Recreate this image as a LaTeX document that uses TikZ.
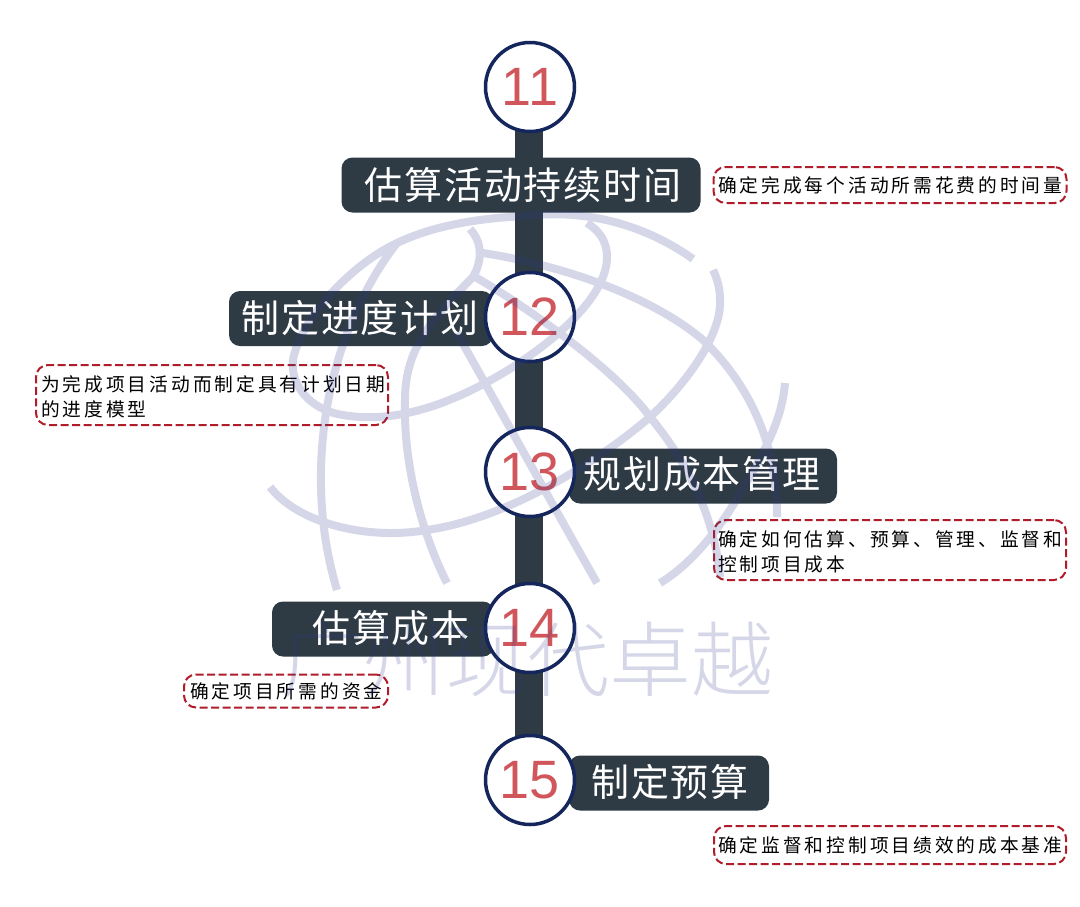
\documentclass[tikz,border=0pt]{standalone}
\usepackage{fontspec}
\setmainfont{Liberation Sans}
\newfontfamily\cjk{Noto Sans CJK SC}
\newfontfamily\cjkt[LetterSpace=5]{Noto Sans CJK SC}
\newfontfamily\cjkn[LetterSpace=16]{Noto Sans CJK SC}
\newfontfamily\wmfont{Noto Sans CJK SC Light}
\definecolor{barc}{HTML}{2E3A44}
\definecolor{ringc}{HTML}{14265C}
\definecolor{numc}{HTML}{D1565C}
\definecolor{dashc}{HTML}{B01C2A}
\definecolor{wmc}{HTML}{2E3A8C}
\tikzset{
 stepnum/.style={circle,draw=ringc,line width=3.5pt,fill=white,minimum size=89pt,inner sep=0pt,text=numc,font=\fontsize{54}{58}\selectfont},
 titlebox/.style={rectangle,rounded corners=11pt,fill=barc,text=white,minimum height=55pt,inner sep=0pt},
 titletext/.style={text=white,inner sep=0pt,font=\cjkt\fontsize{38}{40}\selectfont},
 notebox/.style={rectangle,rounded corners=12pt,draw=dashc,line width=2pt,dash pattern=on 8pt off 3.5pt,inner sep=0pt},
 notetext/.style={text=black,inner sep=0pt,align=left,font=\cjkn\fontsize{18.7}{24.5}\selectfont},
 wmline/.style={draw=wmc,line width=8pt,opacity=0.2}
}
\begin{document}
\begin{tikzpicture}[x=1pt,y=-1pt]
\useasboundingbox (0,0) rectangle (1080,906);
\fill[white] (0,0) rectangle (1080,906);
\coordinate (bartop) at (529,88);
\coordinate (barbot) at (529,780);
\draw[barc,line width=28pt] (bartop) -- (barbot);
\node[titlebox,minimum width=359pt] (t11) at (521,185) {};
\node[titlebox,minimum width=264pt] (t12) at (361,318.5) {};
\node[titlebox,minimum width=268pt] (t13) at (703,476) {};
\node[titlebox,minimum width=222pt] (t14) at (383,629) {};
\node[titlebox,minimum width=200pt] (t15) at (669,783) {};
\node[titletext] (x11) at (523,185) {估算活动持续时间};
\node[titletext] (x12) at (360,318) {制定进度计划};
\node[titletext] (x13) at (702,474) {规划成本管理};
\node[titletext] (x14) at (391,628) {估算成本};
\node[titletext] (x15) at (670,782) {制定预算};
\node[stepnum] (n11) at (530,87) {11};
\node[stepnum] (n12) at (530,317) {12};
\node[stepnum] (n13) at (530,472) {13};
\node[stepnum] (n14) at (530,628) {14};
\node[stepnum] (n15) at (530,780) {15};
\node[notebox,minimum width=353pt,minimum height=36pt] (d11) at (890,185) {};
\node[notebox,minimum width=352pt,minimum height=60pt] (d12) at (212,395) {};
\node[notebox,minimum width=352pt,minimum height=60pt] (d13) at (890,550) {};
\node[notebox,minimum width=204pt,minimum height=33pt] (d14) at (286,691) {};
\node[notebox,minimum width=352pt,minimum height=38pt] (d15) at (890,845) {};
\node[notetext,anchor=west] (y11) at (718,185) {确定完成每个活动所需花费的时间量};
\node[notetext,anchor=west] (y12) at (41,397) {为完成项目活动而制定具有计划日期\\的进度模型};
\node[notetext,anchor=west] (y13) at (718,552) {确定如何估算、预算、管理、监督和\\控制项目成本};
\node[notetext,anchor=west] (y14) at (190,691) {确定项目所需的资金};
\node[notetext,anchor=west] (y15) at (718,845) {确定监督和控制项目绩效的成本基准};
\draw[wmline]
 (693,259) .. controls (650,228) and (590,208) .. (527,216)
 .. controls (480,218) and (435,225) .. (397,243)
 .. controls (350,265) and (300,320) .. (293,360)
 .. controls (290,385) and (310,410) .. (343,415)
 .. controls (400,425) and (460,400) .. (513,367)
 .. controls (570,330) and (607,290) .. (607,257)
 .. controls (607,240) and (598,230) .. (587,223)
 (470,229) .. controls (485,245) and (480,265) .. (473,277)
 .. controls (430,320) and (405,350) .. (405,400)
 .. controls (403,470) and (425,540) .. (447,583)
 (397,243) .. controls (360,290) and (323,370) .. (321,470)
 .. controls (320,520) and (328,560) .. (337,590)
 (483,253) .. controls (560,265) and (650,295) .. (703,340)
 .. controls (745,380) and (778,440) .. (777,517)
 (477,278) .. controls (540,315) and (620,375) .. (650,417)
 .. controls (690,465) and (715,520) .. (720,577)
 (457,333) .. controls (500,410) and (550,500) .. (597,583)
 (270,487) .. controls (300,525) and (370,540) .. (427,530)
 .. controls (510,518) and (600,460) .. (650,417)
 .. controls (685,385) and (722,335) .. (720,300)
 .. controls (720,290) and (718,280) .. (713,270)
 (785,383) .. controls (782,420) and (765,450) .. (745,485)
 .. controls (720,530) and (690,565) .. (660,583);
\node[text=wmc,opacity=0.2,font=\wmfont\fontsize{82}{90}\selectfont] (wm) at (527,660) {广州现代卓越};
\end{tikzpicture}
\end{document}
